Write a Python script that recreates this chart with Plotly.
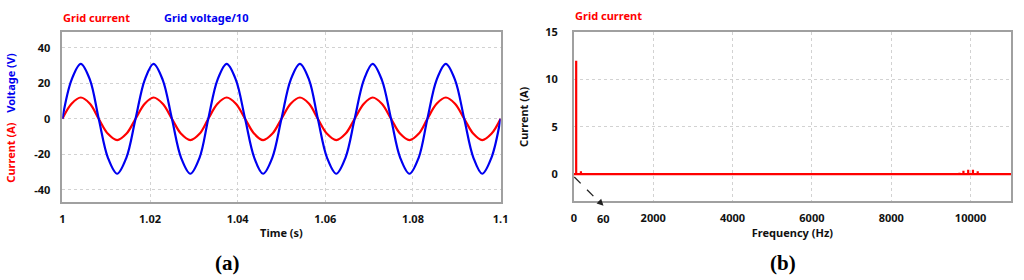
import plotly.graph_objects as go

# ---- data (a): time-domain samples ----
time_s = [1.0000, 1.0021, 1.0042, 1.0063, 1.0083, 1.0104, 1.0125, 1.0146,
          1.0167, 1.0188, 1.0208, 1.0229, 1.0250, 1.0271, 1.0292, 1.0313,
          1.0333, 1.0354, 1.0375, 1.0396, 1.0417, 1.0438, 1.0458, 1.0479,
          1.0500, 1.0521, 1.0542, 1.0563, 1.0583, 1.0604, 1.0625, 1.0646,
          1.0667, 1.0688, 1.0708, 1.0729, 1.0750, 1.0771, 1.0792, 1.0813,
          1.0833, 1.0854, 1.0875, 1.0896, 1.0917, 1.0938, 1.0958, 1.0979,
          1.1000]
grid_current = [0, 8.5, 12, 8.5, 0, -8.5, -12, -8.5,
                0, 8.5, 12, 8.5, 0, -8.5, -12, -8.5,
                0, 8.5, 12, 8.5, 0, -8.5, -12, -8.5,
                0, 8.5, 12, 8.5, 0, -8.5, -12, -8.5,
                0, 8.5, 12, 8.5, 0, -8.5, -12, -8.5,
                0, 8.5, 12, 8.5, 0, -8.5, -12, -8.5,
                0]
grid_voltage_10 = [0, 22, 31, 22, 0, -22, -31, -22,
                   0, 22, 31, 22, 0, -22, -31, -22,
                   0, 22, 31, 22, 0, -22, -31, -22,
                   0, 22, 31, 22, 0, -22, -31, -22,
                   0, 22, 31, 22, 0, -22, -31, -22,
                   0, 22, 31, 22, 0, -22, -31, -22,
                   0]
time_ticks = [1.0, 1.02, 1.04, 1.06, 1.08, 1.1]
time_labels = ["1", "1.02", "1.04", "1.06", "1.08", "1.1"]
volt_ticks = [-40, -20, 0, 20, 40]
volt_labels = ["-40", "-20", "0", "20", "40"]

# ---- data (b): spectrum lines ----
spec_freq = [60, 180, 9720, 9820, 9940, 10060, 10180]
spec_amp = [12, 0.3, 0.15, 0.35, 0.45, 0.45, 0.3]
freq_max = 11020
freq_ticks = [0, 2000, 4000, 6000, 8000, 10000]
freq_labels = ["0", "2000", "4000", "6000", "8000", "10000"]
amp_ticks = [0, 5, 10, 15]
amp_labels = ["0", "5", "10", "15"]

RED = "#ff0000"
BLUE = "#0000f0"
FONT = "Noto Sans"

# stem path for spectrum
sx, sy = [0], [0]
for f, a in zip(spec_freq, spec_amp):
    sx += [f, f, f]
    sy += [0, a, 0]
sx.append(freq_max)
sy.append(0)

fig = go.Figure()
fig.add_trace(go.Scatter(x=time_s, y=grid_current, mode="lines",
                         line=dict(color=RED, width=2.2, shape="spline"),
                         xaxis="x", yaxis="y", showlegend=False))
fig.add_trace(go.Scatter(x=time_s, y=grid_voltage_10, mode="lines",
                         line=dict(color=BLUE, width=2.2, shape="spline"),
                         xaxis="x", yaxis="y", showlegend=False))
fig.add_trace(go.Scatter(x=sx, y=sy, mode="lines",
                         line=dict(color=RED, width=2.2),
                         xaxis="x2", yaxis="y2", showlegend=False))

W, H = 1024, 280
def px(x): return x / W
def py(y): return 1 - y / H

axis_common = dict(showline=True, linecolor="#a0a0a0", linewidth=1.5, mirror=True,
                   showgrid=True, gridcolor="#d2d2d2", griddash="dot", gridwidth=1,
                   zeroline=False, ticks="",
                   tickfont=dict(family=FONT, size=11, color="#111", weight="bold"))

fig.update_layout(
    width=W, height=H,
    margin=dict(l=0, r=0, t=0, b=0),
    paper_bgcolor="white", plot_bgcolor="white",
    font=dict(family=FONT, size=11, color="#111"),
    xaxis=dict(domain=[px(60), px(503)], range=[1.0, 1.1], anchor="y",
               tickvals=time_ticks, ticktext=time_labels, ticklabelstandoff=6,
               title=dict(text="Time (s)", standoff=4,
                          font=dict(family=FONT, size=11, color="#111", weight="bold")),
               **axis_common),
    yaxis=dict(domain=[py(200), py(25)], range=[-47.1, 48.8], anchor="x",
               tickvals=volt_ticks, ticktext=volt_labels, ticklabelstandoff=8,
               **axis_common),
    xaxis2=dict(domain=[px(577), px(1019)], range=[0, freq_max], anchor="y2",
                tickvals=freq_ticks, ticktext=freq_labels, ticklabelstandoff=6,
                title=dict(text="Frequency (Hz)", standoff=4,
                           font=dict(family=FONT, size=11, color="#111", weight="bold")),
                **axis_common),
    yaxis2=dict(domain=[py(199), py(25)], range=[-2.88, 15], anchor="x2",
                tickvals=amp_ticks, ticktext=amp_labels, ticklabelstandoff=12,
                title=dict(text="Current (A)", standoff=14,
                           font=dict(family=FONT, size=11, color="#111", weight="bold")),
                **axis_common),
)

ann = []
bold = dict(family=FONT, size=11, weight="bold")
ann.append(dict(text="Grid current", x=px(59), y=py(10), xref="paper", yref="paper",
                xanchor="left", yanchor="middle", showarrow=False,
                font=dict(color=RED, **bold)))
ann.append(dict(text="Grid voltage/10", x=px(161), y=py(10), xref="paper", yref="paper",
                xanchor="left", yanchor="middle", showarrow=False,
                font=dict(color=BLUE, **bold)))
ann.append(dict(text="Grid current", x=px(576), y=py(8), xref="paper", yref="paper",
                xanchor="left", yanchor="middle", showarrow=False,
                font=dict(color=RED, **bold)))
ann.append(dict(text="Voltage (V)", x=px(8), y=py(77), xref="paper", yref="paper",
                xanchor="center", yanchor="middle", showarrow=False, textangle=-90,
                font=dict(color=BLUE, **bold)))
ann.append(dict(text="Current (A)", x=px(8), y=py(148), xref="paper", yref="paper",
                xanchor="center", yanchor="middle", showarrow=False, textangle=-90,
                font=dict(color=RED, **bold)))
ann.append(dict(text="60", x=px(607), y=py(217), xref="paper", yref="paper",
                xanchor="center", yanchor="middle", showarrow=False,
                font=dict(color="#111", **bold)))
ann.append(dict(text="(<b>a</b>)", x=px(227), y=py(262), xref="paper", yref="paper",
                xanchor="center", yanchor="middle", showarrow=False,
                font=dict(family="Liberation Serif", size=21, color="#000", weight="bold")))
ann.append(dict(text="(<b>b</b>)", x=px(788), y=py(262), xref="paper", yref="paper",
                xanchor="center", yanchor="middle", showarrow=False,
                font=dict(family="Liberation Serif", size=21, color="#000", weight="bold")))
# arrowhead of the dashed pointer
ann.append(dict(text="", x=px(607), y=py(203.5), xref="paper", yref="paper",
                ax=-6, ay=-6, showarrow=True, arrowhead=2, arrowsize=1,
                arrowwidth=1.3, arrowcolor="#222"))
fig.update_layout(annotations=ann)

fig.add_shape(type="line", xref="paper", yref="paper",
              x0=px(577.5), y0=py(174), x1=px(602), y1=py(199),
              line=dict(color="#222", width=1.3, dash="dash"))

fig.write_html("out.html", config={"displayModeBar": False},
               post_script="document.body.style.margin='0';document.body.style.padding='0';")
